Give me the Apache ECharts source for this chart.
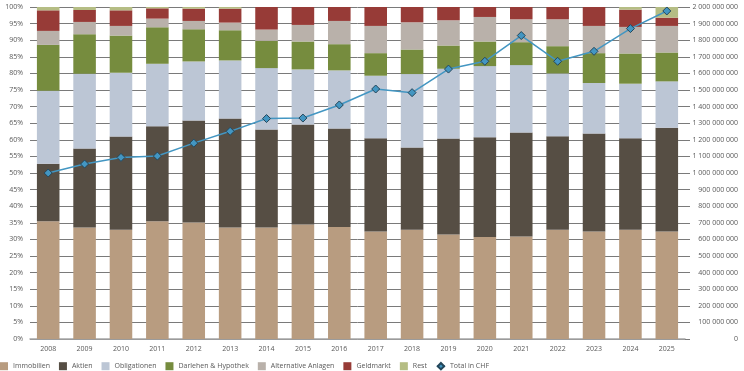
<!DOCTYPE html>
<html><head><meta charset="utf-8">
<script src="https://cdn.jsdelivr.net/npm/echarts@6/dist/echarts.min.js"></script>
<style>html,body{margin:0;padding:0;background:#fff}#c{width:744px;height:371px}</style>
</head><body><div id="c"></div>
<script>
const years = ['2008','2009','2010','2011','2012','2013','2014','2015','2016','2017','2018','2019','2020','2021','2022','2023','2024','2025'];
const immobilien = [35.5,33.6,32.9,35.5,35.1,33.6,33.6,34.5,33.7,32.4,32.9,31.5,30.7,30.9,32.9,32.4,32.9,32.4];
const aktien = [17.3,23.8,28.1,28.6,30.7,32.8,29.5,30.1,29.7,28.1,24.8,28.9,30.1,31.3,28.2,29.5,27.6,31.2];
const obligationen = [22.0,22.5,19.2,18.8,17.8,17.5,18.5,16.6,17.5,18.8,22.1,21.0,21.4,20.3,18.9,15.2,16.4,14.0];
const darlehen = [13.8,11.9,11.2,11.0,9.7,9.1,8.2,8.4,7.9,6.8,7.4,7.0,7.4,6.9,8.2,9.0,9.1,8.7];
const alternative = [4.2,3.7,2.9,2.6,2.5,2.3,3.4,5.0,7.0,8.2,8.2,7.6,7.4,6.9,8.1,8.2,8.0,8.0];
const geldmarkt = [6.2,3.6,4.7,3.1,3.7,4.2,6.8,5.4,4.2,5.7,4.6,4.0,3.0,3.7,3.7,5.7,5.2,2.5];
const rest = [1.0,0.9,1.0,0.4,0.5,0.5,0,0,0,0,0,0,0,0,0,0,0.8,3.2];
const totalCHF = [1000000000,1054000000,1094000000,1102000000,1180000000,1251000000,1328000000,1331000000,1410000000,1506000000,1484000000,1626000000,1673000000,1828000000,1673000000,1733000000,1870000000,1976000000];

const font = {fontFamily:'Open Sans', fontSize:7, color:'#595959'};
const chart = echarts.init(document.getElementById('c'));
function bar(name, data, color){
  return {name, type:'bar', stack:'a', data, barCategoryGap:'38%', itemStyle:{color}, emphasis:{disabled:true}};
}
const sq = 'path://M0,0H10V10H0Z';
chart.setOption({
  animation:false,
  textStyle:{fontFamily:'Open Sans'},
  grid:{left:30, right:59, top:7, bottom:32, containLabel:false},
  legend:{left:0, top:362, padding:0, itemWidth:8, itemHeight:8, itemGap:9, textStyle:Object.assign({},font),
    data:[
      {name:'Immobilien', icon:sq},{name:'Aktien', icon:sq},{name:'Obligationen', icon:sq},
      {name:'Darlehen & Hypothek', icon:sq},{name:'Alternative Anlagen', icon:sq},
      {name:'Geldmarkt', icon:sq},{name:'Rest', icon:sq},{name:'Total in CHF'}
    ]},
  xAxis:{type:'category', data:years,
    axisLine:{lineStyle:{color:'#a6a6a6', width:1.5}},
    axisTick:{alignWithLabel:true, length:3, lineStyle:{color:'#a6a6a6'}},
    axisLabel:Object.assign({margin:6}, font)},
  yAxis:[
    {type:'value', min:0, max:100, interval:5,
     axisLabel:Object.assign({formatter:'{value}%', margin:7}, font),
     axisLine:{show:false}, axisTick:{show:false},
     splitLine:{lineStyle:{color:'#7a7a7a', width:1}}},
    {type:'value', min:0, max:2000000000, interval:100000000, position:'right',
     axisLabel:Object.assign({align:'right', margin:53,
       formatter:v=>String(Math.round(v)).replace(/\B(?=(\d{3})+(?!\d))/g,' ')}, font),
     axisLine:{show:false}, axisTick:{show:true, length:5, lineStyle:{color:'#7a7a7a'}},
     splitLine:{show:false}}
  ],
  series:[
    bar('Immobilien', immobilien, '#b89c80'),
    bar('Aktien', aktien, '#564e44'),
    bar('Obligationen', obligationen, '#bcc6d5'),
    bar('Darlehen & Hypothek', darlehen, '#768c3e'),
    bar('Alternative Anlagen', alternative, '#b9b1aa'),
    bar('Geldmarkt', geldmarkt, '#973b37'),
    bar('Rest', rest, '#b5bd84'),
    {name:'Total in CHF', type:'line', yAxisIndex:1, data:totalCHF, symbol:'diamond', symbolSize:8,
     lineStyle:{color:'#4396c2', width:1.5}, itemStyle:{color:'#4396c2', borderColor:'#24465a', borderWidth:1},
     emphasis:{disabled:true}, z:5}
  ]
});
</script></body></html>
